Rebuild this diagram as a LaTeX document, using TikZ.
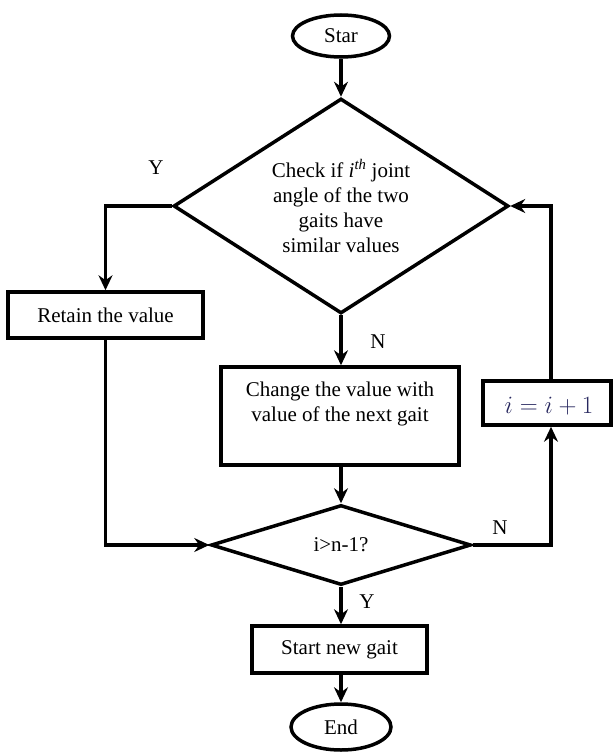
\documentclass[tikz,border=0pt]{standalone}
\usepackage{fontspec}
\setmainfont{Liberation Serif}
\usetikzlibrary{shapes.geometric,arrows.meta,calc}
\definecolor{incol}{RGB}{40,40,95}
\begin{document}
\begin{tikzpicture}[x=1pt,y=-1pt,
  line width=3.5pt,
  every node/.style={font=\fontsize{21}{25}\selectfont, text=black},
  proc/.style={draw, rectangle, inner sep=0pt},
  term/.style={draw, ellipse, inner sep=0pt},
  dec/.style={draw, diamond, inner sep=0pt, align=center},
  flow/.style={-{Stealth[length=15pt,width=14pt,inset=5pt]}, line width=3.5pt},
  lbl/.style={font=\fontsize{21}{24}\selectfont}
]
\useasboundingbox (0,0) rectangle (613,752);
% nodes
\node[term, minimum width=97pt, minimum height=42pt] (start) at (341,36) {Star};
\node[dec, aspect=1.5, minimum width=335pt, minimum height=215pt] (d1) at (341,206)
  {Check if \textit{i}\textsuperscript{\textit{th}} joint\\angle of the two\\gaits have\\similar values};
\node[proc, minimum width=195pt, minimum height=46pt] (retain) at (105.5,315) {Retain the value};
\node[proc, minimum width=238pt, minimum height=98pt] (change) at (340,416) {};
\node[align=center] (changetxt) at (340,404) {Change the value with\\value of the next gait};
\node[proc, minimum width=128pt, minimum height=44pt] (inc) at (547,403) {};
\node[text=incol, font=\fontsize{25}{28}\selectfont] (inctxt) at (549,406) {$i = i + 1$};
\node[dec, aspect=3.2, minimum width=260pt, minimum height=80pt] (d2) at (341,545) {i>n-1?};
\node[proc, minimum width=175pt, minimum height=47pt] (newgait) at (339.5,649.5) {Start new gait};
\node[term, minimum width=100pt, minimum height=46pt] (end) at (341,727) {End};
% labels
\node[lbl] (ly1) at (156,168) {Y};
\node[lbl] (ln1) at (378,342) {N};
\node[lbl] (ln2) at (500,528) {N};
\node[lbl] (ly2) at (367,602) {Y};
% connectors
\draw[flow] (start.south) -- (start.south |- d1.north);
\draw[flow] (d1.west) -| (retain.north);
\draw[flow] (d1.south) -- (d1.south |- change.north);
\draw[flow] (d1.south |- change.south) -- (d2.north);
\draw[flow] (retain.south) |- (d2.west);
\draw[flow] (d2.east) -| ([xshift=4pt]inc.south);
\draw[flow] ([xshift=4pt]inc.north) |- (d1.east);
\draw[flow] (d2.south) -- (d2.south |- newgait.north);
\draw[flow] (end.north |- newgait.south) -- (end.north);
\end{tikzpicture}
\end{document}
